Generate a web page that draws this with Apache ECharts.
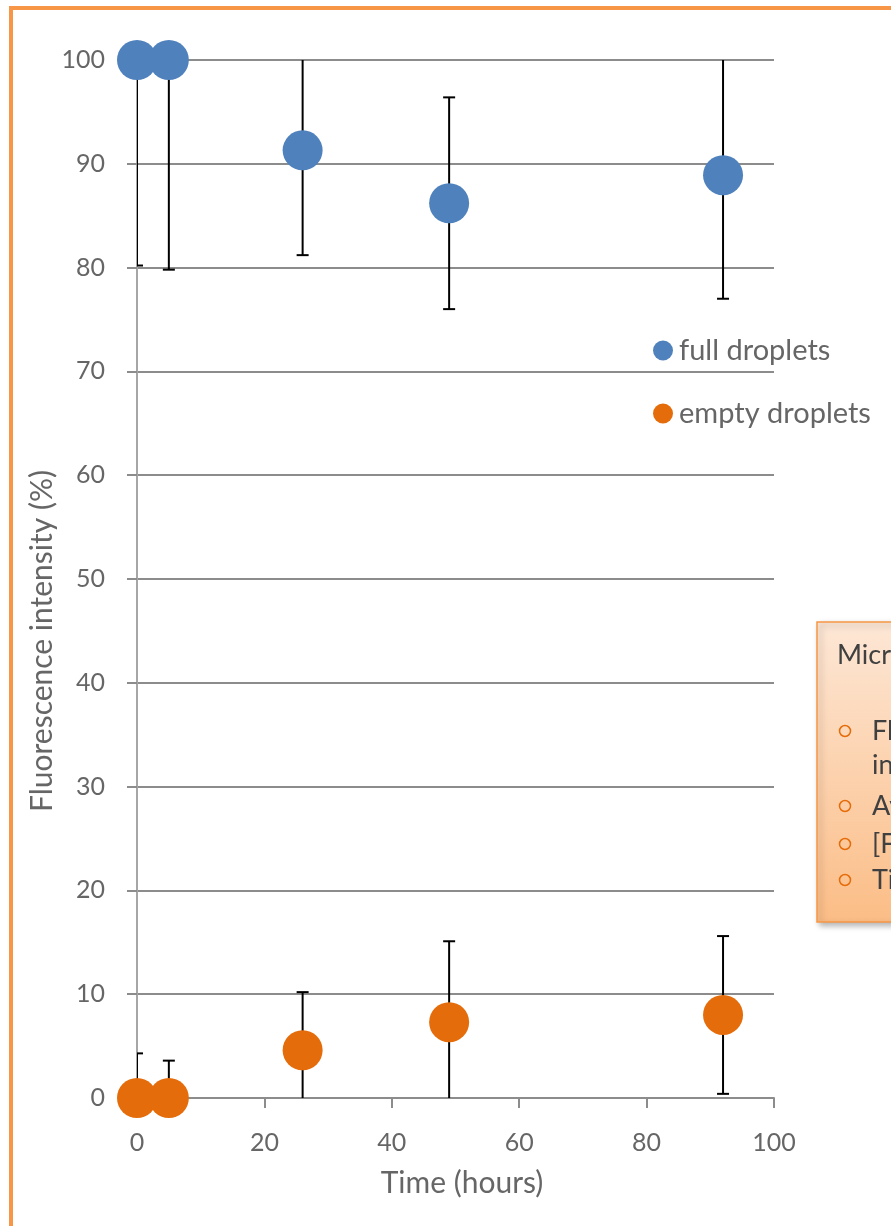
<!DOCTYPE html>
<html>
<head>
<meta charset="utf-8">
<script src="https://cdn.jsdelivr.net/npm/echarts@6/dist/echarts.min.js"></script>
<style>
  html, body { margin: 0; padding: 0; background: #fff; }
  #chart { width: 891px; height: 1226px; }
</style>
</head>
<body>
<div id="chart"></div>
<script>
const times = [0, 5, 26, 49, 92]
const fullMean = [100, 100, 91.3, 86.2, 88.9]
const fullErr = [19.8, 20.2, 10.1, 10.2, 11.9]
const emptyMean = [0, 0, 4.6, 7.3, 8.0]
const emptyErr = [4.3, 3.6, 5.6, 7.8, 7.6]
const calloutTitle = 'Microscopy measurements'
const calloutLines = [
  { bullet: true, text: 'Fluorescence' },
  { bullet: false, text: 'intensity per droplet' },
  { bullet: true, text: 'Average of droplets' },
  { bullet: true, text: '[FITC] in droplets' },
  { bullet: true, text: 'Time after loading' }
]

const font = 'Lato, "Open Sans", sans-serif'
const labelColor = '#666666'

const chart = echarts.init(document.getElementById('chart'))

function errorSeries(mean, err) {
  return {
    type: 'custom',
    clip: true,
    z: 1,
    data: times.map((t, i) => [t, mean[i] - err[i], mean[i] + err[i]]),
    renderItem(params, api) {
      const lo = api.coord([api.value(0), api.value(1)])
      const hi = api.coord([api.value(0), api.value(2)])
      const half = 6
      const style = { stroke: '#000', lineWidth: 2 }
      return {
        type: 'group',
        children: [
          { type: 'line', shape: { x1: lo[0], y1: lo[1], x2: hi[0], y2: hi[1] }, style },
          { type: 'line', shape: { x1: lo[0] - half, y1: lo[1], x2: lo[0] + half, y2: lo[1] }, style },
          { type: 'line', shape: { x1: hi[0] - half, y1: hi[1], x2: hi[0] + half, y2: hi[1] }, style }
        ]
      }
    }
  }
}

// callout box on the right, partly outside the picture
const callout = [
  {
    type: 'rect',
    shape: { x: 817, y: 622, width: 260, height: 300 },
    style: {
      fill: new echarts.graphic.LinearGradient(0, 0, 0, 1, [
        { offset: 0, color: '#fde7d6' },
        { offset: 1, color: '#fbbd86' }
      ]),
      stroke: '#f79646',
      lineWidth: 1.5,
      shadowBlur: 6,
      shadowOffsetX: 3,
      shadowOffsetY: 3,
      shadowColor: 'rgba(0,0,0,0.3)'
    },
    z: 10
  },
  {
    type: 'text',
    x: 837,
    y: 655,
    style: { text: calloutTitle, font: '27px ' + font, fill: '#404040', verticalAlign: 'middle' },
    z: 11
  }
]
const lineY = [731, 765, 806, 844, 880]
calloutLines.forEach((l, i) => {
  if (l.bullet) {
    callout.push({
      type: 'circle',
      shape: { cx: 845, cy: lineY[i], r: 5.5 },
      style: { fill: 'none', stroke: '#e46c0a', lineWidth: 1.5 },
      z: 11
    })
  }
  callout.push({
    type: 'text',
    x: 872,
    y: lineY[i],
    style: { text: l.text, font: '27px ' + font, fill: '#404040', verticalAlign: 'middle' },
    z: 11
  })
})

chart.setOption({
  animation: false,
  textStyle: { fontFamily: font },
  grid: { left: 137, right: 117, top: 60, bottom: 128 },
  legend: {
    orient: 'vertical',
    left: 648,
    top: 331,
    itemWidth: 20,
    itemHeight: 20,
    itemGap: 34,
    icon: 'circle',
    textStyle: { fontSize: 29, color: labelColor, fontFamily: font, padding: [0, 0, 0, 1] },
    data: ['full droplets', 'empty droplets']
  },
  xAxis: {
    type: 'value',
    min: 0,
    max: 100,
    interval: 20,
    axisLine: { lineStyle: { color: '#8c8c8c', width: 2 } },
    axisTick: { show: true, length: 10, lineStyle: { color: '#8c8c8c', width: 2 } },
    axisLabel: { fontSize: 25, color: labelColor, margin: 32 },
    splitLine: { show: false }
  },
  yAxis: {
    type: 'value',
    min: 0,
    max: 100,
    interval: 10,
    axisLine: { show: true, lineStyle: { color: '#a6a6a6', width: 2 } },
    axisTick: { show: true, length: 10, lineStyle: { color: '#8c8c8c', width: 2 } },
    axisLabel: { fontSize: 25, color: labelColor, margin: 32 },
    splitLine: { lineStyle: { color: '#8c8c8c', width: 2 } }
  },
  graphic: [
    {
      type: 'rect',
      shape: { x: 11, y: 8, width: 1000, height: 1400 },
      style: { fill: 'none', stroke: '#f79646', lineWidth: 4 },
      z: 0
    },
    {
      type: 'text',
      x: 462,
      y: 1183,
      style: { text: 'Time (hours)', font: '30px ' + font, fill: labelColor, align: 'center', verticalAlign: 'middle' }
    },
    {
      type: 'text',
      x: 42,
      y: 641,
      rotation: Math.PI / 2,
      style: { text: 'Fluorescence intensity (%)', font: '30px ' + font, fill: labelColor, align: 'center', verticalAlign: 'middle' }
    },
    ...callout
  ],
  series: [
    errorSeries(fullMean, fullErr),
    errorSeries(emptyMean, emptyErr),
    {
      name: 'full droplets',
      type: 'scatter',
      clip: false,
      z: 3,
      symbolSize: 40,
      itemStyle: { color: '#4f81bd', opacity: 1 },
      data: times.map((t, i) => [t, fullMean[i]])
    },
    {
      name: 'empty droplets',
      type: 'scatter',
      clip: false,
      z: 3,
      symbolSize: 40,
      itemStyle: { color: '#e46c0a', opacity: 1 },
      data: times.map((t, i) => [t, emptyMean[i]])
    }
  ]
})
</script>
</body>
</html>
